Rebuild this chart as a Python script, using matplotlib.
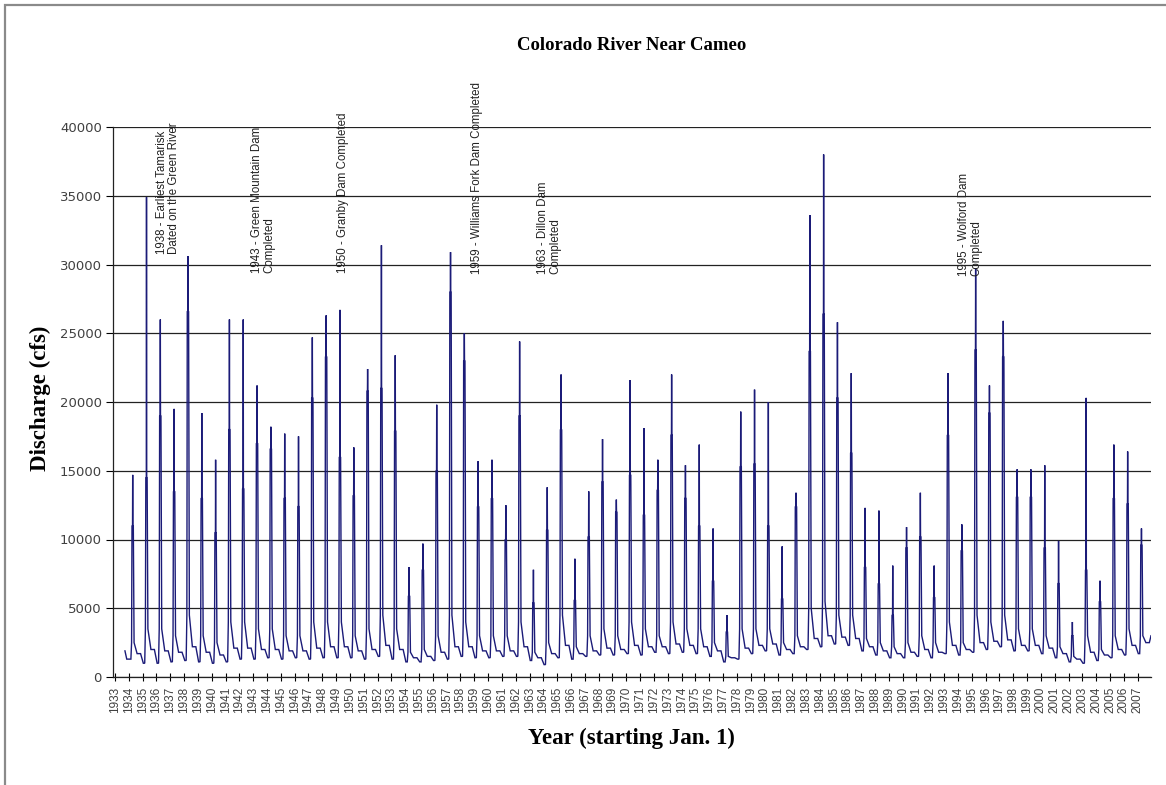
import matplotlib
matplotlib.use("Agg")
import matplotlib.pyplot as plt
from matplotlib.patches import Rectangle

# ---------------- data ----------------
years = list(range(1934, 2008))
tick_years = list(range(1933, 2008))

# annual peak discharge (cfs)
peak = [14700, 34900, 26000, 19500, 30600, 19200, 15800, 26000, 26000, 21200,
        18200, 17700, 17500, 24700, 26300, 26700, 16700, 22400, 31400, 23400,
        8000, 9700, 19800, 30900, 25000, 15700, 15800, 12500, 24400, 7800,
        13800, 22000, 8600, 13500, 17300, 12900, 21600, 18100, 15800, 22000,
        15400, 16900, 10800, 4500, 19300, 20900, 20000, 9500, 13400, 33600,
        38000, 25800, 22100, 12300, 12100, 8100, 10900, 13400, 8100, 22100,
        11100, 29700, 21200, 25900, 15100, 15100, 15400, 9900, 4000, 20300,
        7000, 16900, 16400, 10800]

# upper end of the dense (dark) part of each spring spike
shoulder = [11000, 14500, 19000, 13500, 26600, 13000, 10500, 18000, 13700, 17000,
            16600, 13000, 12400, 20300, 23300, 16000, 13200, 20800, 21000, 17900,
            5900, 7800, 15000, 28000, 23000, 12400, 13000, 10000, 19000, 5400,
            10700, 18000, 5600, 10200, 14200, 12000, 14700, 11800, 13600, 17600,
            13000, 11000, 7000, 3300, 15300, 15500, 11000, 5700, 12400, 23700,
            26400, 20300, 16300, 8000, 6800, 4500, 9400, 10200, 5800, 17600,
            9200, 23800, 19200, 23300, 13100, 13100, 9400, 6800, 3000, 7800,
            5500, 13000, 12600, 9600]

# summer recession level after the peak
summer = [2500, 3500, 3500, 3000, 4500, 3000, 2500, 4000, 4000, 3500,
          3500, 3000, 3000, 4000, 4000, 4000, 3000, 3500, 4500, 3500,
          1800, 2000, 3000, 4500, 4000, 3000, 3000, 3000, 4000, 1800,
          2500, 4500, 2200, 3000, 3500, 3000, 4000, 3500, 3000, 4000,
          3500, 3500, 2500, 1500, 3500, 3500, 3500, 2500, 3000, 5000,
          5500, 4500, 4500, 2800, 2500, 2200, 2500, 3000, 2500, 4000,
          2500, 4500, 4000, 4500, 3500, 3500, 3000, 2200, 1500, 3000,
          2000, 3000, 3500, 3000]

# autumn level
autumn = [1700, 2000, 1900, 1800, 2200, 1800, 1600, 2100, 2100, 2000,
          2000, 1900, 1900, 2100, 2200, 2200, 1900, 2000, 2300, 2000,
          1400, 1500, 1800, 2200, 2200, 1900, 1900, 1900, 2200, 1400,
          1700, 2300, 1700, 1900, 2100, 2000, 2300, 2200, 2200, 2400,
          2300, 2200, 1900, 1400, 2100, 2300, 2400, 2000, 2200, 2800,
          3000, 2900, 2800, 2200, 1900, 1700, 1800, 2000, 1800, 2300,
          2000, 2500, 2600, 2700, 2300, 2300, 2100, 1700, 1300, 1800,
          1600, 2000, 2300, 2500]

# winter low flow
low = [1300, 1000, 1000, 1100, 1200, 1100, 1000, 1100, 1300, 1300,
       1400, 1300, 1400, 1300, 1400, 1400, 1400, 1300, 1500, 1300,
       1100, 1100, 1200, 1300, 1500, 1400, 1400, 1500, 1500, 1200,
       900, 1400, 1300, 1500, 1600, 1600, 1700, 1600, 1800, 1700,
       1800, 1700, 1500, 1100, 1300, 1700, 1900, 1600, 1700, 2000,
       2200, 2400, 2300, 1900, 1600, 1400, 1400, 1500, 1400, 1700,
       1600, 1800, 2000, 2200, 1900, 1900, 1700, 1400, 1100, 1000,
       1200, 1400, 1600, 1700]

start_flow = 1900
end_flow = 3000

annotations = [
    (1936.83, 30800, "1938 - Earliest Tamarisk\nDated on the Green River"),
    (1943.71, 29400, "1943 - Green Mountain Dam\nCompleted"),
    (1949.50, 29400, "1950 - Granby Dam Completed"),
    (1959.19, 29300, "1959 - Williams Fork Dam Completed"),
    (1964.40, 29300, "1963 - Dillon Dam\nCompleted"),
    (1994.87, 29200, "1995 - Wolford Dam\nCompleted"),
]

# ---------------- build the series ----------------
PEAK_OFF = 0.28
t = [1933.72, 1933.85]
q = [start_flow, low[0]]
for i, y in enumerate(years):
    tp = y + PEAK_OFF
    t += [y + 0.05, tp - 0.13, tp - 0.08, tp - 0.05, tp - 0.012, tp,
          tp + 0.012, tp + 0.045, tp + 0.10, y + 0.60, y + 0.85]
    q += [low[i], low[i], summer[i], shoulder[i], shoulder[i], peak[i],
          shoulder[i], shoulder[i], summer[i], autumn[i], autumn[i]]
t.append(2007.97)
q.append(end_flow)

# ---------------- figure ----------------
W, H = 1166, 785
fig = plt.figure(figsize=(W / 100, H / 100), dpi=100)
fig.patch.set_facecolor("white")

L, R, T, B = 113, 1151, 127, 677
ax = fig.add_axes([L / W, 1 - B / H, (R - L) / W, (B - T) / H])

ax.plot(t, q, color="#1b1b78", lw=1.0, solid_joinstyle="miter")

ax.set_xlim(1932.855, 2007.97)
ax.set_ylim(0, 40000)
ax.set_yticks(range(0, 40001, 5000))
ax.set_yticklabels([str(v) for v in range(0, 40001, 5000)],
                   fontfamily="DejaVu Sans", fontsize=9.5, color="#404040")
ax.set_xticks(tick_years)
ax.set_xticklabels([str(y) for y in tick_years], rotation=90,
                   fontfamily="Liberation Sans", fontsize=8.5, color="#404040")
ax.tick_params(axis="x", direction="inout", length=6, width=0.8, pad=4)
ax.tick_params(axis="y", direction="out", length=5, width=0.8, pad=3)

ax.grid(axis="y", color="#222222", lw=0.9)
ax.set_axisbelow(True)
for s in ("top", "right"):
    ax.spines[s].set_visible(False)
for s in ("left", "bottom"):
    ax.spines[s].set_color("#222222")
    ax.spines[s].set_linewidth(0.9)

for x, y, txt in annotations:
    ax.text(x, y, txt, rotation=90, ha="center", va="bottom",
            multialignment="left", fontfamily="Liberation Sans",
            fontsize=8.3, color="#222222", linespacing=1.0)

fig.text(632 / W, 1 - 46 / H, "Colorado River Near Cameo", ha="center",
         va="center", fontfamily="Liberation Serif", fontweight="bold",
         fontsize=13.5)
fig.text(631 / W, 1 - 738 / H, "Year (starting Jan. 1)", ha="center",
         va="center", fontfamily="Liberation Serif", fontweight="bold",
         fontsize=16.5)
fig.text(40 / W, 1 - 398 / H, "Discharge (cfs)", ha="center", va="center",
         rotation=90, fontfamily="Liberation Serif", fontweight="bold",
         fontsize=16.5)

fig.patches.append(Rectangle((5 / W, -0.05), 1.2, 1 - 5 / H + 0.05,
                             transform=fig.transFigure, fill=False,
                             edgecolor="#8a8a8a", lw=1.6))

fig.savefig("out.png", dpi=100)
